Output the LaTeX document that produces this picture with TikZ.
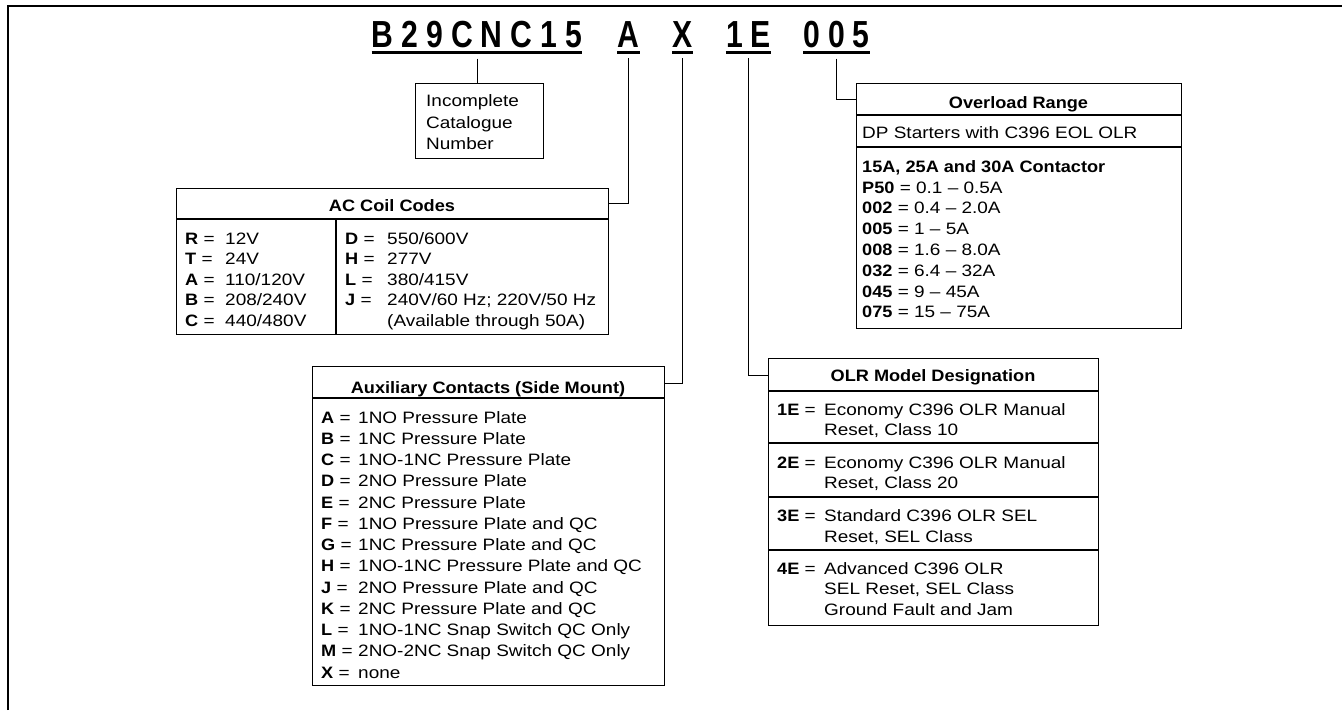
\documentclass[tikz,border=0pt]{standalone}
\usepackage{fontspec}
\setmainfont{Liberation Sans}[UprightFeatures={FakeStretch=1.15}, BoldFeatures={FakeStretch=1.1}]
\newfontfamily\codefont{Liberation Sans}[FakeStretch=0.8]
\newcommand\bodyfs{\fontsize{16.5}{20}\selectfont}
\newcommand\codefs{\codefont\bfseries\fontsize{37.7}{40}\selectfont}
\newcommand\gp{\hspace{8pt}}
\begin{document}
\begin{tikzpicture}[x=1pt,y=-1pt,
  code/.style={anchor=base, inner sep=0pt, font=\codefs},
  ul/.style={line width=2.7pt},
  box/.style={draw, line width=1.3pt, anchor=north west, inner sep=0pt},
  conn/.style={line width=1pt},
  sep/.style={line width=1.1pt},
  txt/.style={anchor=base west, inner sep=0pt, font=\bodyfs},
  hdr/.style={anchor=base, inner sep=0pt, font=\bodyfs\bfseries},
  frame/.style={line width=2pt}]
\useasboundingbox (0,0) rectangle (1342,710);
\draw[frame] (8,710) -- (8,6) -- (1342,6);

% catalogue code
\node[code] (cat) at (477,47) {B\gp 2\gp 9\gp C\gp N\gp C\gp 1\gp 5};
\node[code] (coil) at (628.5,47) {A};
\node[code] (aux) at (682.5,47) {X};
\node[code] (olr) at (748.5,47) {1\gp E};
\node[code] (rng) at (836.5,47) {0\gp 0\gp 5};
\foreach \n in {cat,coil,aux,olr,rng}
  \draw[ul] ([yshift=-5pt]\n.south west) -- ([yshift=-5pt]\n.south east);

% boxes
\node[box, minimum width=128, minimum height=75] (inc) at (415,83) {};
\node[box, minimum width=432, minimum height=146] (acbox) at (176,188) {};
\node[box, minimum width=325, minimum height=245] (rngbox) at (856,83) {};
\node[box, minimum width=352, minimum height=319] (auxbox) at (312,366) {};
\node[box, minimum width=330, minimum height=267] (olrbox) at (768,358) {};

% connectors
\draw[conn] ([yshift=-11pt]cat.south) -- (cat.south |- inc.north);
\draw[conn] ([yshift=-11pt]coil.south) |- ([yshift=-15pt]acbox.north east);
\draw[conn] ([yshift=-11pt]aux.south) |- ([yshift=-17pt]auxbox.north east);
\draw[conn] ([yshift=-11pt]olr.south) |- ([yshift=-17pt]olrbox.north west);
\draw[conn] ([yshift=-11pt]rng.south) |- ([yshift=-16pt]rngbox.north west);

% incomplete catalogue number
\node[txt] (inc1) at (426,106) {Incomplete};
\node[txt] (inc2) at (426,128) {Catalogue};
\node[txt] (inc3) at (426,149) {Number};

% AC coil codes
\node[hdr] (achdr) at (392,211) {AC Coil Codes};
\draw[sep] (176,219) -- (608,219);
\draw[sep] (336,219) -- (336,334);
\foreach \k/\v [count=\i from 0] in {R/12V, T/24V, A/{110/120V}, B/{208/240V}, C/{440/480V}} {
  \node[txt] (acl\i) at (185,{244+20.5*\i}) {\textbf{\k} =};
  \node[txt] (acv\i) at (225,{244+20.5*\i}) {\v};
}
\foreach \k/\v [count=\i from 0] in {D/{550/600V}, H/277V, L/{380/415V}, J/{240V/60 Hz; 220V/50 Hz}} {
  \node[txt] (acr\i) at (345,{244+20.5*\i}) {\textbf{\k} =};
  \node[txt] (acw\i) at (387,{244+20.5*\i}) {\v};
}
\node[txt] (acavail) at (387,326) {(Available through 50A)};

% overload range
\node[hdr] (rnghdr) at (1018.5,108) {Overload Range};
\draw[sep] (856,115) -- (1181,115);
\node[txt] (rngdp) at (862,138) {DP Starters with C396 EOL OLR};
\draw[sep] (856,147) -- (1181,147);
\node[txt] (rngsub) at (862,172) {\bfseries 15A, 25A and 30A Contactor};
\foreach \k/\v [count=\i from 0] in {P50/{0.1 \textendash{} 0.5A}, 002/{0.4 \textendash{} 2.0A}, 005/{1 \textendash{} 5A}, 008/{1.6 \textendash{} 8.0A}, 032/{6.4 \textendash{} 32A}, 045/{9 \textendash{} 45A}, 075/{15 \textendash{} 75A}} {
  \node[txt] (rngr\i) at (862,{193+20.8*\i}) {\textbf{\k} = \v};
}

% auxiliary contacts
\node[hdr] (auxhdr) at (488,393) {Auxiliary Contacts (Side Mount)};
\draw[sep] (312,398) -- (664,398);
\foreach \k/\v [count=\i from 0] in {A/1NO Pressure Plate, B/1NC Pressure Plate, C/1NO-1NC Pressure Plate, D/2NO Pressure Plate, E/2NC Pressure Plate, F/1NO Pressure Plate and QC, G/1NC Pressure Plate and QC, H/1NO-1NC Pressure Plate and QC, J/2NO Pressure Plate and QC, K/2NC Pressure Plate and QC, L/1NO-1NC Snap Switch QC Only, M/2NO-2NC Snap Switch QC Only, X/none} {
  \node[txt] (auxl\i) at (321,{423+21.25*\i}) {\textbf{\k} =};
  \node[txt] (auxv\i) at (358,{423+21.25*\i}) {\v};
}

% OLR model designation
\node[hdr] (olrhdr) at (933,381) {OLR Model Designation};
\draw[sep] (768,391) -- (1098,391);
\draw[sep] (768,443) -- (1098,443);
\draw[sep] (768,497) -- (1098,497);
\draw[sep] (768,550) -- (1098,550);
\node[txt] (olr1l) at (777,415) {\textbf{1E} =};
\node[txt] (olr1a) at (824,415) {Economy C396 OLR Manual};
\node[txt] (olr1b) at (824,435) {Reset, Class 10};
\node[txt] (olr2l) at (777,468) {\textbf{2E} =};
\node[txt] (olr2a) at (824,468) {Economy C396 OLR Manual};
\node[txt] (olr2b) at (824,488) {Reset, Class 20};
\node[txt] (olr3l) at (777,521) {\textbf{3E} =};
\node[txt] (olr3a) at (824,521) {Standard C396 OLR SEL};
\node[txt] (olr3b) at (824,542) {Reset, SEL Class};
\node[txt] (olr4l) at (777,574) {\textbf{4E} =};
\node[txt] (olr4a) at (824,574) {Advanced C396 OLR};
\node[txt] (olr4b) at (824,594) {SEL Reset, SEL Class};
\node[txt] (olr4c) at (824,615) {Ground Fault and Jam};
\end{tikzpicture}
\end{document}
